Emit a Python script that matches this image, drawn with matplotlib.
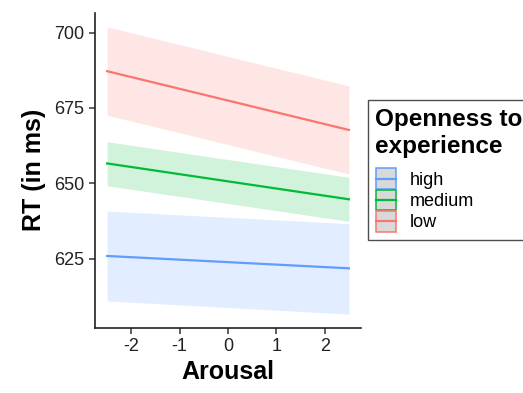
import numpy as np
import matplotlib
matplotlib.use("Agg")
import matplotlib.pyplot as plt
from matplotlib.patches import Rectangle
from matplotlib.lines import Line2D

plt.rcParams['font.family'] = ['Liberation Sans', 'DejaVu Sans']

# predicted RT at the ends of the arousal range, with 95% CI
arousal = [-2.5, 2.5]
groups = ["high", "medium", "low"]
colors = ["#619CFF", "#00BA38", "#F8766D"]
fit = {
    "high": [625.9, 621.8],
    "medium": [656.6, 644.7],
    "low": [687.2, 667.7],
}
ci_low = {
    "high": [611.0, 606.6],
    "medium": [649.2, 637.4],
    "low": [672.6, 653.1],
}
ci_high = {
    "high": [640.8, 636.6],
    "medium": [663.8, 652.0],
    "low": [701.9, 682.3],
}


class RibbonKey:
    """Legend key: grey box with coloured outline and a line through the middle."""

    def __init__(self, color):
        self.color = color

    def legend_artist(self, legend, orig_handle, fontsize, handlebox):
        x0, y0 = handlebox.xdescent, handlebox.ydescent
        w, h = handlebox.width, handlebox.height
        box = Rectangle((-x0 + 0.4, -y0 + 0.4), w - 0.8, h - 0.8, facecolor="#D9D9D9",
                        edgecolor=self.color, linewidth=1.1, transform=handlebox.get_transform())
        line = Line2D([-x0 + 0.4, -x0 + w - 0.4], [-y0 + h / 2, -y0 + h / 2], color=self.color,
                      linewidth=1.6, transform=handlebox.get_transform())
        handlebox.add_artist(box)
        handlebox.add_artist(line)
        return box


fig = plt.figure(figsize=(5.23, 3.93), dpi=100)
ax = fig.add_axes([95 / 523, 1 - 328 / 393, (361 - 95) / 523, (328 - 12.7) / 393])

handles = []
handler_map = {}
for g, c in zip(groups, colors):
    ax.fill_between(arousal, ci_low[g], ci_high[g], color=c, alpha=0.18, linewidth=0)
    ln, = ax.plot(arousal, fit[g], color=c, linewidth=1.6)
    handles.append(ln)
    handler_map[ln] = RibbonKey(c)

ax.set_xlim(-2.75, 2.75)
ax.set_ylim(602.0, 706.6)
ax.set_xticks([-2, -1, 0, 1, 2])
ax.set_yticks([625, 650, 675, 700])
ax.set_xticklabels(["-2", "-1", "0", "1", "2"])
ax.tick_params(labelsize=13, length=4, width=1.1, color="#333333", labelcolor="#222222")

for side in ["top", "right"]:
    ax.spines[side].set_visible(False)
for side in ["left", "bottom"]:
    ax.spines[side].set_linewidth(1.2)
    ax.spines[side].set_color("#222222")

ax.set_xlabel("Arousal", fontsize=18, fontweight="bold", labelpad=3)
ax.set_ylabel("RT (in ms)", fontsize=18, fontweight="bold", labelpad=6)

leg = fig.legend(handles, groups, loc="upper left",
                 bbox_to_anchor=(367.5 / 523, 1 - 100 / 393), borderaxespad=0,
                 handler_map=handler_map,
                 title="Openness to\nexperience",
                 title_fontproperties={"size": 17.5, "weight": "bold"},
                 fontsize=13, frameon=True, fancybox=False,
                 alignment="left", handlelength=1.2, handleheight=1.45,
                 handletextpad=0.72, labelspacing=0.0, borderpad=0.42)
leg.get_frame().set_edgecolor("#222222")
leg.get_frame().set_linewidth(1.0)
leg.get_title().set_linespacing(1.25)
# gap between the title block and the keys
leg._legend_box.sep = 7

fig.savefig("out.png", dpi=100)
